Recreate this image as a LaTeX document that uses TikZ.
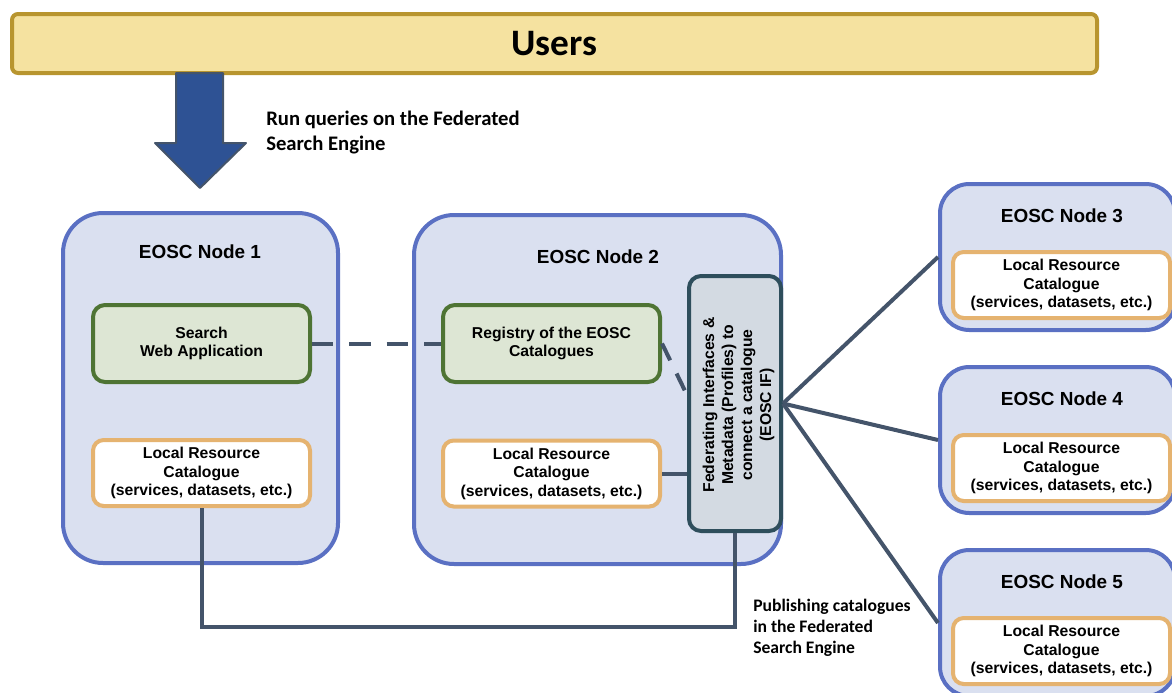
\documentclass[tikz,border=0pt]{standalone}
\usepackage{fontspec}
\setmainfont{Liberation Sans}
\newfontfamily\calibri{Carlito}
\usetikzlibrary{calc}

\definecolor{usersfill}{HTML}{F5E2A0}
\definecolor{usersborder}{HTML}{B8952F}
\definecolor{arrowblue}{HTML}{2E5294}
\definecolor{nodefill}{HTML}{DAE0F0}
\definecolor{nodeblue}{HTML}{5A70C3}
\definecolor{appfill}{HTML}{DDE6D4}
\definecolor{appgreen}{HTML}{4E7434}
\definecolor{catorange}{HTML}{E5B370}
\definecolor{fedfill}{HTML}{D3DAE2}
\definecolor{fedborder}{HTML}{2E4E5C}
\definecolor{linkgray}{HTML}{44546A}

\begin{document}
\begin{tikzpicture}[x=0.75pt,y=-0.75pt,
  eosc/.style={draw=nodeblue, fill=nodefill, line width=3pt, rounded corners=30pt},
  appbox/.style={draw=appgreen, fill=appfill, line width=3pt, rounded corners=9pt,
    minimum width=162.75pt, minimum height=57.75pt, inner sep=2pt, align=center,
    font=\fontsize{11.8}{13.7}\selectfont\bfseries},
  catbox/.style={draw=catorange, fill=white, line width=3pt, rounded corners=8pt,
    minimum width=162.75pt, minimum height=49.5pt, inner sep=2pt, align=center,
    font=\fontsize{11.8}{13.9}\selectfont\bfseries},
  title/.style={font=\fontsize{14.2}{17}\selectfont\bfseries},
  link/.style={draw=linkgray, line width=3pt},
  note/.style={anchor=west, align=left, inner sep=0pt,
    font=\calibri\fontsize{13.2}{15.75}\selectfont\bfseries}]
  \useasboundingbox (0,0) rectangle (1172,693);

  % users banner
  \node[draw=usersborder, fill=usersfill, line width=3pt, rounded corners=4.5pt,
    minimum width=813.75pt, minimum height=44.25pt,
    font=\calibri\fontsize{28}{32}\selectfont\bfseries] (users) at (554.5,43.5) {Users};
  % query arrow
  \filldraw[fill=arrowblue, draw=linkgray, line width=1.5pt, line join=round]
    (176,73) -- (223,73) -- (223,143) -- (246,143) -- (200,188)
    -- (155,143) -- (176,143) -- cycle;
  \node[note, font=\calibri\fontsize{15.5}{18.75}\selectfont\bfseries] (query) at (266,132)
    {Run queries on the Federated\\Search Engine};

  % EOSC nodes
  \node[eosc, minimum width=206.25pt, minimum height=262.5pt] (n1) at (200.5,388) {};
  \node[eosc, minimum width=275.25pt, minimum height=261.75pt] (n2) at (597.5,389.5) {};
  \node[title] (t1) at (200,252) {EOSC Node 1};
  \node[title] (t2) at (598,257) {EOSC Node 2};
  \foreach \i/\y in {3/257, 4/440, 5/623} {
    \node[eosc, rounded corners=22pt, minimum width=176.25pt, minimum height=109.5pt]
      (n\i) at (1057.5,\y) {};
    \node[title] (t\i) at (1062,\y-41) {EOSC Node \i};
    \node[catbox] (cat\i) at (1061.5,\y+28) {Local Resource\\Catalogue\\(services, datasets, etc.)};
  }

  % boxes inside node 1 and 2
  \node[appbox] (search) at (201.5,343.5) {Search\\Web Application};
  \node[catbox] (cat1) at (201.5,473) {Local Resource\\Catalogue\\(services, datasets, etc.)};
  \node[appbox] (registry) at (551.5,343.5) {Registry of the EOSC\\Catalogues};
  \node[catbox] (cat2) at (551.5,473.5) {Local Resource\\Catalogue\\(services, datasets, etc.)};
  \node[draw=fedborder, fill=fedfill, line width=3pt, rounded corners=9pt,
    minimum width=69pt, minimum height=191.25pt] (fed) at (735,403.5) {};
  \node[rotate=90, align=center, inner sep=0pt,
    font=\fontsize{11.8}{14.25}\selectfont\bfseries] (fedtext) at (738.5,405)
    {Federating Interfaces \&\\Metadata (Profiles) to\\connect a catalogue\\(EOSC IF)};

  % connectors
  \draw[link, dash pattern=on 16pt off 12pt] (search.east) -- (registry.west);
  \draw[link, dash pattern=on 14pt off 11pt] (registry.east) -- (fed.170);
  \draw[link] (cat2.east) -- (cat2.east -| fed.west);
  \foreach \i in {3,4,5}
    \draw[link] (fed.east) -- (n\i.west);
  \draw[link] (cat1.south) -- ++(0,119) -| (fed.south);
  \node[note] (publish) at (753,628) {Publishing catalogues\\in the Federated\\Search Engine};
\end{tikzpicture}
\end{document}
